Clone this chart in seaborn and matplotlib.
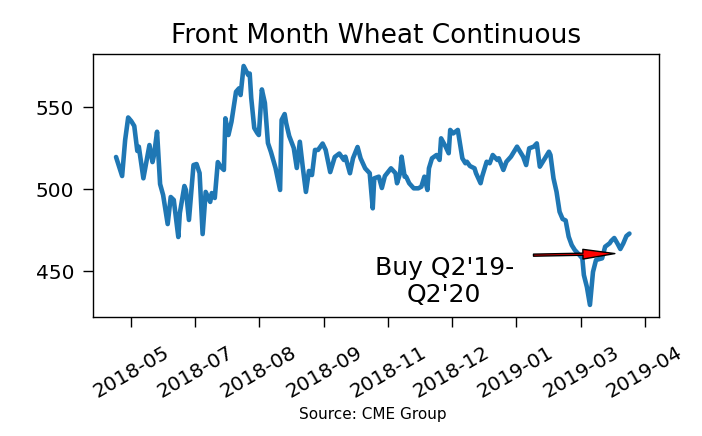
import matplotlib
matplotlib.use("Agg")
import matplotlib.pyplot as plt
import matplotlib.dates as mdates
import pandas as pd
import seaborn as sns

# front month wheat (cents/bu)
dates = [
    "2018-05-11", "2018-05-15", "2018-05-17", "2018-05-19", "2018-05-21", "2018-05-23",
    "2018-05-25", "2018-05-26", "2018-05-29", "2018-06-02", "2018-06-04", "2018-06-05",
    "2018-06-07", "2018-06-09", "2018-06-11", "2018-06-14", "2018-06-16", "2018-06-18",
    "2018-06-21", "2018-06-22", "2018-06-25", "2018-06-26", "2018-06-28", "2018-07-01",
    "2018-07-03", "2018-07-05", "2018-07-07", "2018-07-09", "2018-07-12", "2018-07-13",
    "2018-07-15", "2018-07-17", "2018-07-19", "2018-07-21", "2018-07-22", "2018-07-24",
    "2018-07-26", "2018-07-29", "2018-07-31", "2018-08-01", "2018-08-03", "2018-08-06",
    "2018-08-07", "2018-08-08", "2018-08-10", "2018-08-12", "2018-08-13", "2018-08-15",
    "2018-08-17", "2018-08-19", "2018-08-21", "2018-08-24", "2018-08-27", "2018-08-28",
    "2018-08-30", "2018-08-31", "2018-09-02", "2018-09-05", "2018-09-07", "2018-09-09",
    "2018-09-11", "2018-09-13", "2018-09-15", "2018-09-17", "2018-09-19", "2018-09-21",
    "2018-09-24", "2018-09-26", "2018-09-29", "2018-10-02", "2018-10-05", "2018-10-08",
    "2018-10-09", "2018-10-12", "2018-10-14", "2018-10-17", "2018-10-19", "2018-10-22",
    "2018-10-25", "2018-10-27", "2018-10-28", "2018-10-31", "2018-11-02", "2018-11-04",
    "2018-11-08", "2018-11-11", "2018-11-12", "2018-11-14", "2018-11-15", "2018-11-17",
    "2018-11-18", "2018-11-20", "2018-11-23", "2018-11-26", "2018-11-28", "2018-11-30",
    "2018-12-02", "2018-12-03", "2018-12-05", "2018-12-08", "2018-12-10", "2018-12-11",
    "2018-12-14", "2018-12-16", "2018-12-17", "2018-12-19", "2018-12-22", "2018-12-25",
    "2018-12-27", "2018-12-28", "2018-12-30", "2019-01-02", "2019-01-03", "2019-01-06",
    "2019-01-07", "2019-01-10", "2019-01-12", "2019-01-14", "2019-01-17", "2019-01-18",
    "2019-01-21", "2019-01-23", "2019-01-26", "2019-01-30", "2019-02-01", "2019-02-03",
    "2019-02-05", "2019-02-07", "2019-02-10", "2019-02-12", "2019-02-14", "2019-02-16",
    "2019-02-20", "2019-02-21", "2019-02-23", "2019-02-25", "2019-02-26", "2019-02-27",
    "2019-03-01", "2019-03-03", "2019-03-04", "2019-03-05", "2019-03-07", "2019-03-09",
    "2019-03-11", "2019-03-14", "2019-03-15", "2019-03-17", "2019-03-19", "2019-03-21",
    "2019-03-23", "2019-03-27", "2019-03-29", "2019-04-01", "2019-04-02", "2019-04-04",
    "2019-04-06", "2019-04-08", "2019-04-10", "2019-04-12", "2019-04-14",
]
prices = [
    519.7, 508.1, 530.1, 543.8, 541.6, 538.6,
    523.4, 526.0, 506.7, 527.0, 516.6, 520.9,
    535.1, 503.2, 496.5, 478.8, 495.3, 493.5,
    470.9, 485.5, 502.0, 499.6, 481.3, 514.8,
    515.4, 509.9, 472.7, 498.4, 492.3, 497.7,
    494.7, 516.6, 513.6, 511.8, 543.3, 533.1,
    541.2, 559.5, 561.6, 557.5, 575.2, 569.7,
    570.6, 555.7, 537.4, 534.3, 533.1, 560.9,
    552.6, 528.2, 522.7, 513.0, 499.6, 542.3,
    545.9, 540.4, 532.5, 525.2, 513.0, 529.0,
    513.0, 498.4, 511.2, 508.7, 524.0, 524.0,
    527.9, 524.0, 510.5, 519.7, 521.8, 517.9,
    519.9, 509.8, 518.9, 525.8, 518.9, 512.8,
    509.8, 488.4, 506.7, 507.7, 500.8, 508.1,
    512.8, 509.8, 503.7, 509.8, 519.9, 507.7,
    507.7, 503.7, 500.6, 500.6, 501.6, 507.7,
    499.6, 512.8, 518.9, 520.9, 517.9, 531.1,
    526.0, 522.0, 536.2, 534.1, 536.2, 518.9,
    515.9, 516.8, 514.2, 512.8, 509.8, 503.7,
    507.7, 516.8, 515.9, 520.9, 517.9, 518.9,
    511.8, 516.8, 519.9, 526.0, 522.9, 519.9,
    514.8, 525.0, 526.0, 528.0, 513.8, 516.8,
    522.9, 520.9, 506.7, 498.5, 492.4, 486.3,
    481.9, 481.0, 476.2, 471.1, 466.0, 463.0,
    461.0, 457.9, 447.7, 440.4, 429.5, 449.6,
    456.9, 457.9, 465.0, 467.1, 468.5, 470.3,
    467.1, 463.6, 467.1, 471.5, 473.0,
]

tick_dates = ["2018-05-21", "2018-07-02", "2018-08-13", "2018-09-25", "2018-11-06",
              "2018-12-18", "2019-01-29", "2019-03-13", "2019-04-24"]
y_ticks = [450, 500, 550]

note_text = "Buy Q2'19-\nQ2'20"
note_xy = ("2019-04-15 06:00", 461.0)
note_xytext = ("2018-12-13", 443.8)

df = pd.DataFrame({"date": pd.to_datetime(dates), "price": prices})

sns.set_theme(style="ticks")
plt.rcParams["font.family"] = ["DejaVu Sans"]
plt.rcParams["axes.edgecolor"] = "black"
plt.rcParams["axes.linewidth"] = 1.0
plt.rcParams["xtick.color"] = "black"
plt.rcParams["ytick.color"] = "black"
plt.rcParams["text.color"] = "black"

fig = plt.figure(figsize=(7.02, 4.36), dpi=100)
ax = fig.add_axes([0.1323, 0.2736, 0.8059, 0.6025])

sns.lineplot(data=df, x="date", y="price", ax=ax, color="#1f77b4",
             linewidth=3.3, estimator=None)

ax.set_xlim(pd.Timestamp("2018-04-25 18:00"), pd.Timestamp("2019-05-03 05:00"))
ax.set_ylim(422.3, 582.5)
ax.set_xticks(pd.to_datetime(tick_dates))
ax.xaxis.set_major_formatter(mdates.DateFormatter("%Y-%m"))
ax.set_yticks(y_ticks)
ax.tick_params(axis="both", labelsize=14.5, length=7, width=1.0)
ax.tick_params(axis="x", pad=12)
ax.tick_params(axis="y", pad=6.5)
plt.setp(ax.get_xticklabels(), rotation=30, ha="center")
ax.set_xlabel("")
ax.set_ylabel("")
ax.set_title("Front Month Wheat Continuous", fontsize=19, pad=8)

ax.annotate(note_text,
            xy=(mdates.date2num(pd.Timestamp(note_xy[0])), note_xy[1]),
            xytext=(mdates.date2num(pd.Timestamp(note_xytext[0])), note_xytext[1]),
            ha="center", va="center", fontsize=18,
            arrowprops=dict(facecolor="red", edgecolor="black", width=1.5,
                            headwidth=7.0, headlength=23, shrink=0.14))

fig.text(0.531, 0.050, "Source: CME Group", ha="center", va="center", fontsize=11)

fig.savefig("out.png", dpi=100)
